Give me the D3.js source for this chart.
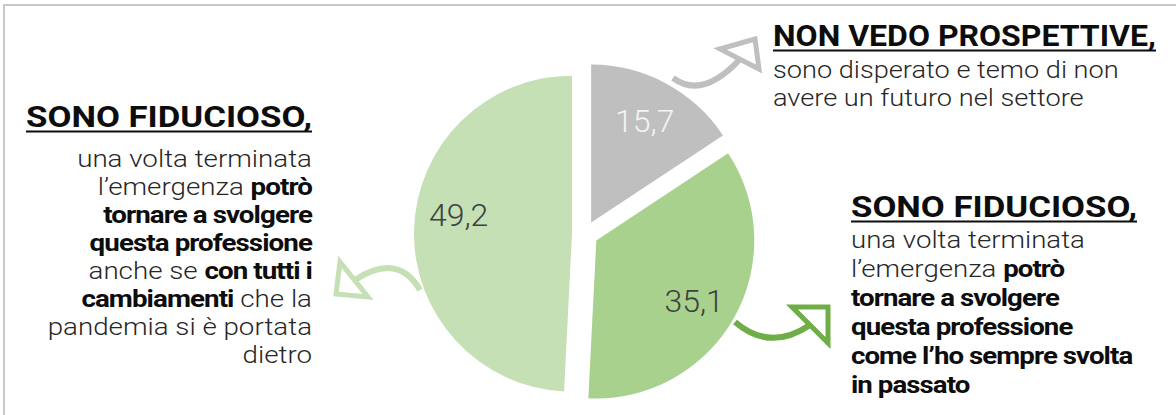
<!DOCTYPE html>
<html>
<head>
<meta charset="utf-8">
<script src="https://cdn.jsdelivr.net/npm/d3@7"></script>
<style>
  html, body { margin: 0; padding: 0; background: #ffffff; }
  svg { display: block; }
</style>
</head>
<body>
<svg id="chart" width="1176" height="415"></svg>
<script>
// Survey answers: outlook on returning to the profession after the pandemic
const categories = ["Non vedo prospettive", "Fiducioso, come in passato", "Fiducioso, con i cambiamenti"];
const values = [15.7, 35.1, 49.2];
const valueLabels = ["15,7", "35,1", "49,2"];
const sliceColors = ["#bfbfbf", "#a9d18e", "#c5e0b4"];
const valueLabelColors = ["#f4f4f4", "#404040", "#404040"];
const arrowColors = ["#bfbfbf", "#70ad47", "#c5e0b4"];

// Annotation texts: each line is a list of [text, bold] segments
const headGrey = "NON VEDO PROSPETTIVE,";
const linesGrey = [
  [["sono disperato e temo di non", false]],
  [["avere un futuro nel settore", false]]
];
const headGreen = "SONO FIDUCIOSO,";
const linesGreen = [
  [["una volta terminata", false]],
  [["l’emergenza ", false], ["potrò", true]],
  [["tornare a svolgere", true]],
  [["questa professione", true]],
  [["come l’ho sempre svolta", true]],
  [["in passato", true]]
];
const headLight = "SONO FIDUCIOSO,";
const linesLight = [
  [["una volta terminata", false]],
  [["l’emergenza ", false], ["potrò", true]],
  [["tornare a svolgere", true]],
  [["questa professione", true]],
  [["anche se ", false], ["con tutti i", true]],
  [["cambiamenti", true], [" che la", false]],
  [["pandemia si è portata", false]],
  [["dietro", false]]
];

const FONT = "Roboto, 'Noto Sans', sans-serif";
const svg = d3.select("#chart");

// frame lines
svg.append("line").attr("x1", 3).attr("x2", 1176).attr("y1", 5).attr("y2", 5)
  .attr("stroke", "#c8c8c8").attr("stroke-width", 2);
svg.append("line").attr("x1", 4).attr("x2", 4).attr("y1", 4).attr("y2", 415)
  .attr("stroke", "#c8c8c8").attr("stroke-width", 2);

// pie
const cx = 585, cy = 234, R = 158, explode = 13;
const pie = d3.pie().sort(null).value(d => d)(values);
const arc = d3.arc().innerRadius(0).outerRadius(R);
const pieG = svg.append("g").attr("transform", `translate(${cx},${cy})`);

function bisector(d) { return (d.startAngle + d.endAngle) / 2; }
function polar(a, r) { return [Math.sin(a) * r, -Math.cos(a) * r]; }

const slices = pieG.selectAll("g.slice").data(pie).join("g")
  .attr("class", "slice")
  .attr("transform", d => { const p = polar(bisector(d), explode); return `translate(${p[0]},${p[1]})`; });

slices.append("path").attr("d", arc).attr("fill", (d, i) => sliceColors[i]);

// value labels, slightly rotated within the slice for best fit
const labelShift = [-0.5, 2, 8].map(v => v * Math.PI / 180);
const labelR = 115;
slices.append("text")
  .attr("x", (d, i) => polar(bisector(d) + labelShift[i], labelR)[0])
  .attr("y", (d, i) => polar(bisector(d) + labelShift[i], labelR)[1])
  .attr("text-anchor", "middle")
  .attr("dominant-baseline", "central")
  .attr("font-family", FONT)
  .attr("font-size", 32)
  .attr("font-weight", 300)
  .attr("fill", (d, i) => valueLabelColors[i])
  .text((d, i) => valueLabels[i]);

// annotation blocks
function block(opts) {
  const g = svg.append("g");
  const anchor = opts.align === "end" ? "end" : "start";
  const head = g.append("text")
    .attr("x", opts.x).attr("y", opts.headY)
    .attr("text-anchor", anchor)
    .attr("font-family", FONT).attr("font-weight", "bold")
    .attr("font-size", opts.headSize).attr("fill", "#0d0d0d")
    .text(opts.head);
  const hw = head.node().getComputedTextLength();
  const hs = opts.headWidth / hw;
  head.attr("transform", `translate(${opts.x},0) scale(${hs},1) translate(${-opts.x},0)`);
  const x0 = opts.align === "end" ? opts.x - opts.headWidth : opts.x;
  g.append("line").attr("x1", x0).attr("x2", x0 + opts.headWidth)
    .attr("y1", opts.headY + 4.5).attr("y2", opts.headY + 4.5)
    .attr("stroke", "#0d0d0d").attr("stroke-width", 2);

  const body = g.append("g");
  opts.lines.forEach((segs, i) => {
    const t = body.append("text")
      .attr("x", opts.x).attr("y", opts.bodyY + i * opts.step)
      .attr("text-anchor", anchor)
      .attr("font-family", FONT).attr("font-size", opts.bodySize);
    segs.forEach(([s, b]) => {
      t.append("tspan").attr("font-weight", b ? "bold" : 300)
        .attr("letter-spacing", b ? -0.8 : 0)
        .attr("fill", b ? "#0d0d0d" : "#262626").text(s);
    });
  });
  const ref = body.select("text").node().getComputedTextLength();
  const bs = opts.refWidth / ref;
  body.attr("transform", `translate(${opts.x},0) scale(${bs},1) translate(${-opts.x},0)`);
}

block({ x: 773, align: "start", head: headGrey, headY: 46, headSize: 29, headWidth: 383,
        lines: linesGrey, bodyY: 78, step: 28, bodySize: 24, refWidth: 346 });
block({ x: 851, align: "start", head: headGreen, headY: 217, headSize: 29, headWidth: 286,
        lines: linesGreen, bodyY: 248, step: 29, bodySize: 24, refWidth: 234 });
block({ x: 312, align: "end", head: headLight, headY: 127, headSize: 29, headWidth: 286,
        lines: linesLight, bodyY: 167, step: 28, bodySize: 24, refWidth: 235 });

// curved arrows pointing from each slice to its description
const arrows = [
  { shaft: "M673,78 Q703,100 741,58", head: [[720, 49], [755, 39], [759, 69]] },
  { shaft: "M735,322 Q770,352 810,325", head: [[792, 307], [828, 307], [828, 343]] },
  { shaft: "M420,290 Q398,252 355,280", head: [[340, 262], [336, 294], [368, 297]] }
];
arrows.forEach((a, i) => {
  svg.append("path").attr("d", a.shaft).attr("fill", "none")
    .attr("stroke", arrowColors[i]).attr("stroke-width", 6);
  svg.append("path").attr("d", d3.line()(a.head) + "Z")
    .attr("fill", "#ffffff").attr("stroke", arrowColors[i])
    .attr("stroke-width", 5).attr("stroke-linejoin", "miter");
});
</script>
</body>
</html>
